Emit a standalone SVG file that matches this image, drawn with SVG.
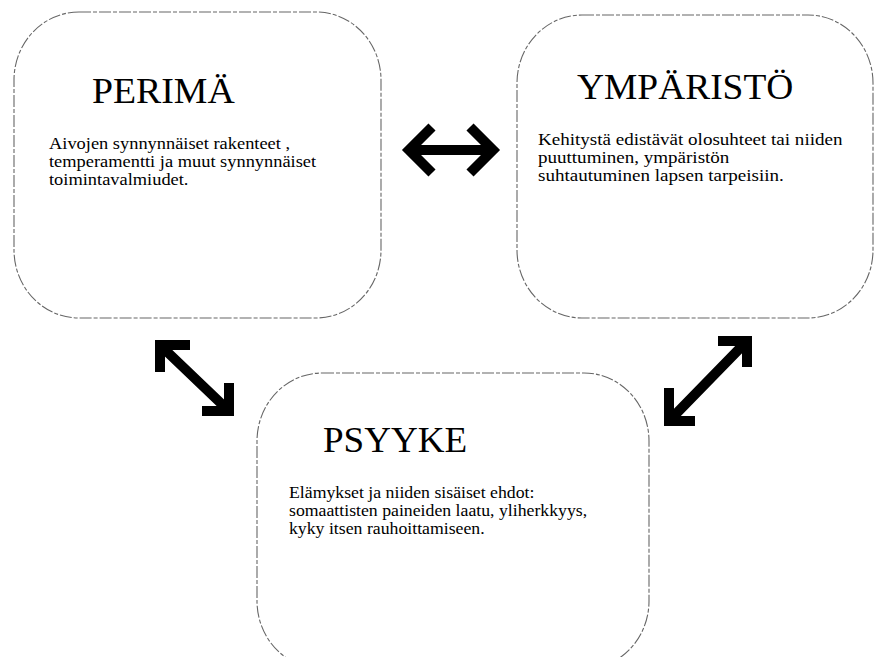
<svg xmlns="http://www.w3.org/2000/svg" width="874" height="657" viewBox="0 0 874 657">
<style>
.box{fill:#fff;stroke:#666;stroke-width:1.1;stroke-dasharray:12 2 4 2}
.title{font-family:"Liberation Serif","Times New Roman",serif;font-size:35px;fill:#000}
.body{font-family:"Liberation Serif","Times New Roman",serif;font-size:16px;fill:#000}
.arr{fill:none;stroke:#000;stroke-width:10;stroke-linecap:butt;stroke-linejoin:miter}
</style>
<rect width="874" height="657" fill="#fff"/>
<g id="perima">
<rect class="box" x="14" y="12" width="367" height="306" rx="65" ry="68"/>
<text class="title" transform="translate(92,103) scale(1.08,1)">PERIMÄ</text>
<g transform="translate(49,0) scale(1.15,1)">
<text class="body" x="0" y="149">Aivojen synnynnäiset rakenteet ,</text>
<text class="body" x="0" y="167">temperamentti ja muut synnynnäiset</text>
<text class="body" x="0" y="185">toimintavalmiudet.</text>
</g>
</g>
<g id="ymparisto">
<rect class="box" x="517" y="15" width="356" height="303" rx="65" ry="68"/>
<text class="title" transform="translate(577,99) scale(1.07,1)">YMPÄRISTÖ</text>
<g transform="translate(538,0) scale(1.19,1)">
<text class="body" x="0" y="145">Kehitystä edistävät olosuhteet tai niiden</text>
<text class="body" x="0" y="163">puuttuminen, ympäristön</text>
<text class="body" x="0" y="181">suhtautuminen lapsen tarpeisiin.</text>
</g>
</g>
<g id="psyyke">
<rect class="box" x="257" y="373" width="392" height="296" rx="65" ry="68"/>
<text class="title" transform="translate(323,452) scale(1.06,1)">PSYYKE</text>
<g transform="translate(289,0) scale(1.11,1)">
<text class="body" x="0" y="498">Elämykset ja niiden sisäiset ehdot:</text>
<text class="body" x="0" y="516">somaattisten paineiden laatu, yliherkkyys,</text>
<text class="body" x="0" y="534">kyky itsen rauhoittamiseen.</text>
</g>
</g>
<g id="connectors">
<path class="arr" d="M409 150 H493 M432 127 L409 150 L432 173 M470 127 L493 150 L470 173"/>
<path class="arr" d="M160 345 L229 411 M190 345 H160 V372 M202 411 H229 V383"/>
<path class="arr" d="M747 341 L669 421 M718 341 H747 V367 M669 388 V421 H695"/>
</g>
</svg>
